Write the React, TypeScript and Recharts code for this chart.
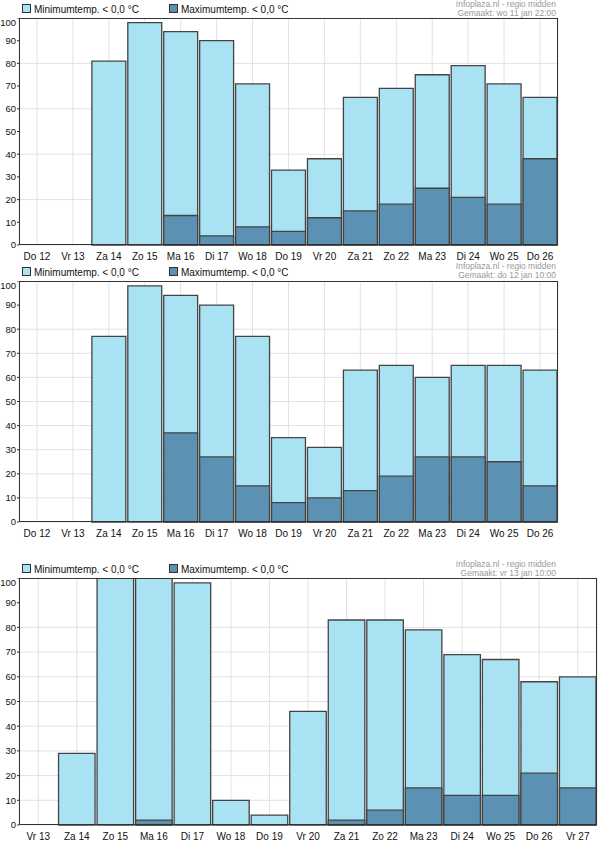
import React from "react";
import { BarChart, Bar, XAxis, YAxis, CartesianGrid } from "recharts";

const days1 = ["Do 12","Vr 13","Za 14","Zo 15","Ma 16","Di 17","Wo 18","Do 19","Vr 20","Za 21","Zo 22","Ma 23","Di 24","Wo 25","Do 26"];
const min1 = [0,0,81,98,94,90,71,33,38,65,69,75,79,71,65];
const max1 = [0,0,0,0,13,4,8,6,12,15,18,25,21,18,38];
const min2 = [0,0,77,98,94,90,77,35,31,63,65,60,65,65,63];
const max2 = [0,0,0,0,37,27,15,8,10,13,19,27,27,25,15];
const days3 = ["Vr 13","Za 14","Zo 15","Ma 16","Di 17","Wo 18","Do 19","Vr 20","Za 21","Zo 22","Ma 23","Di 24","Wo 25","Do 26","Vr 27"];
const min3 = [0,29,100,100,98,10,4,46,83,83,79,69,67,58,60];
const max3 = [0,0,0,2,0,0,0,0,2,6,15,12,12,21,15];
const yTicks = [0,10,20,30,40,50,60,70,80,90,100];

const LIGHT = "#a9e2f3";
const DARK = "#5b91b3";
const font = "Arial, 'Liberation Sans', sans-serif";

function Panel({ top, plotTop, plotBottom, right, days, mins, maxs, made }: any) {
  const data = days.map((d: string, i: number) => ({ d, mn: mins[i], mx: maxs[i] }));
  const left = 19;
  const plotH = plotBottom - plotTop;
  const width = right + 2;
  const height = plotH + 20;
  const n = days.length;
  const band = (right - left) / n;
  const bs = band - 2;
  return (
    <div style={{ position: "absolute", left: 0, top, width: 601, height: plotBottom - top + 20, fontFamily: font }}>
      <div style={{ position: "absolute", left: 22, top: plotTop - top - 14, fontSize: 10, display: "flex", gap: 30, color: "#111" }}>
        <span><span style={{ display: "inline-block", width: 7, height: 7, background: LIGHT, border: "1px solid #333", marginRight: 3 }} />Minimumtemp. &lt; 0,0 °C</span>
        <span><span style={{ display: "inline-block", width: 7, height: 7, background: DARK, border: "1px solid #333", marginRight: 3 }} />Maximumtemp. &lt; 0,0 °C</span>
      </div>
      <div style={{ position: "absolute", right: 601 - 556, top: Math.max(plotTop - top - 19, 0), fontSize: 8.5, color: "#999", textAlign: "right", lineHeight: "9px" }}>
        Infoplaza.nl - regio midden<br />{made}
      </div>
      <div style={{ position: "absolute", left: 0, top: plotTop - top }}>
        <BarChart width={width} height={height} data={data} margin={{ top: 0, right: 2, bottom: 0, left: 0 }} barGap={-bs} barCategoryGap={2}>
          <CartesianGrid stroke="#e2e2e2" />
          <XAxis dataKey="d" tick={{ fontSize: 10, fill: "#111" }} tickLine={false} axisLine={false} height={20} interval={0} />
          <YAxis domain={[0, 100]} ticks={yTicks} width={left} tick={{ fontSize: 9.5, fill: "#111", dx: 1 }} tickSize={2} tickLine={{ stroke: "#333" }} axisLine={false} />
          <Bar dataKey="mn" fill={LIGHT} stroke="#444" strokeWidth={1.3} barSize={bs} isAnimationActive={false} />
          <Bar dataKey="mx" fill={DARK} stroke="#444" strokeWidth={1.3} barSize={bs} isAnimationActive={false} />
        </BarChart>
        <div style={{ position: "absolute", left: left, top: 0, width: right - left, height: plotH, border: "1px solid #333", boxSizing: "border-box", pointerEvents: "none" }} />
      </div>
    </div>
  );
}

export default function App() {
  return (
    <div style={{ position: "absolute", left: 0, top: 0, width: 601, height: 845, background: "#fff" }}>
      <Panel top={0} plotTop={18} plotBottom={245} right={558} days={days1} mins={min1} maxs={max1} made="Gemaakt: wo 11 jan 22:00" />
      <Panel top={262} plotTop={281} plotBottom={522} right={558} days={days1} mins={min2} maxs={max2} made="Gemaakt: do 12 jan 10:00" />
      <Panel top={560} plotTop={578} plotBottom={825} right={597} days={days3} mins={min3} maxs={max3} made="Gemaakt: vr 13 jan 10:00" />
    </div>
  );
}
